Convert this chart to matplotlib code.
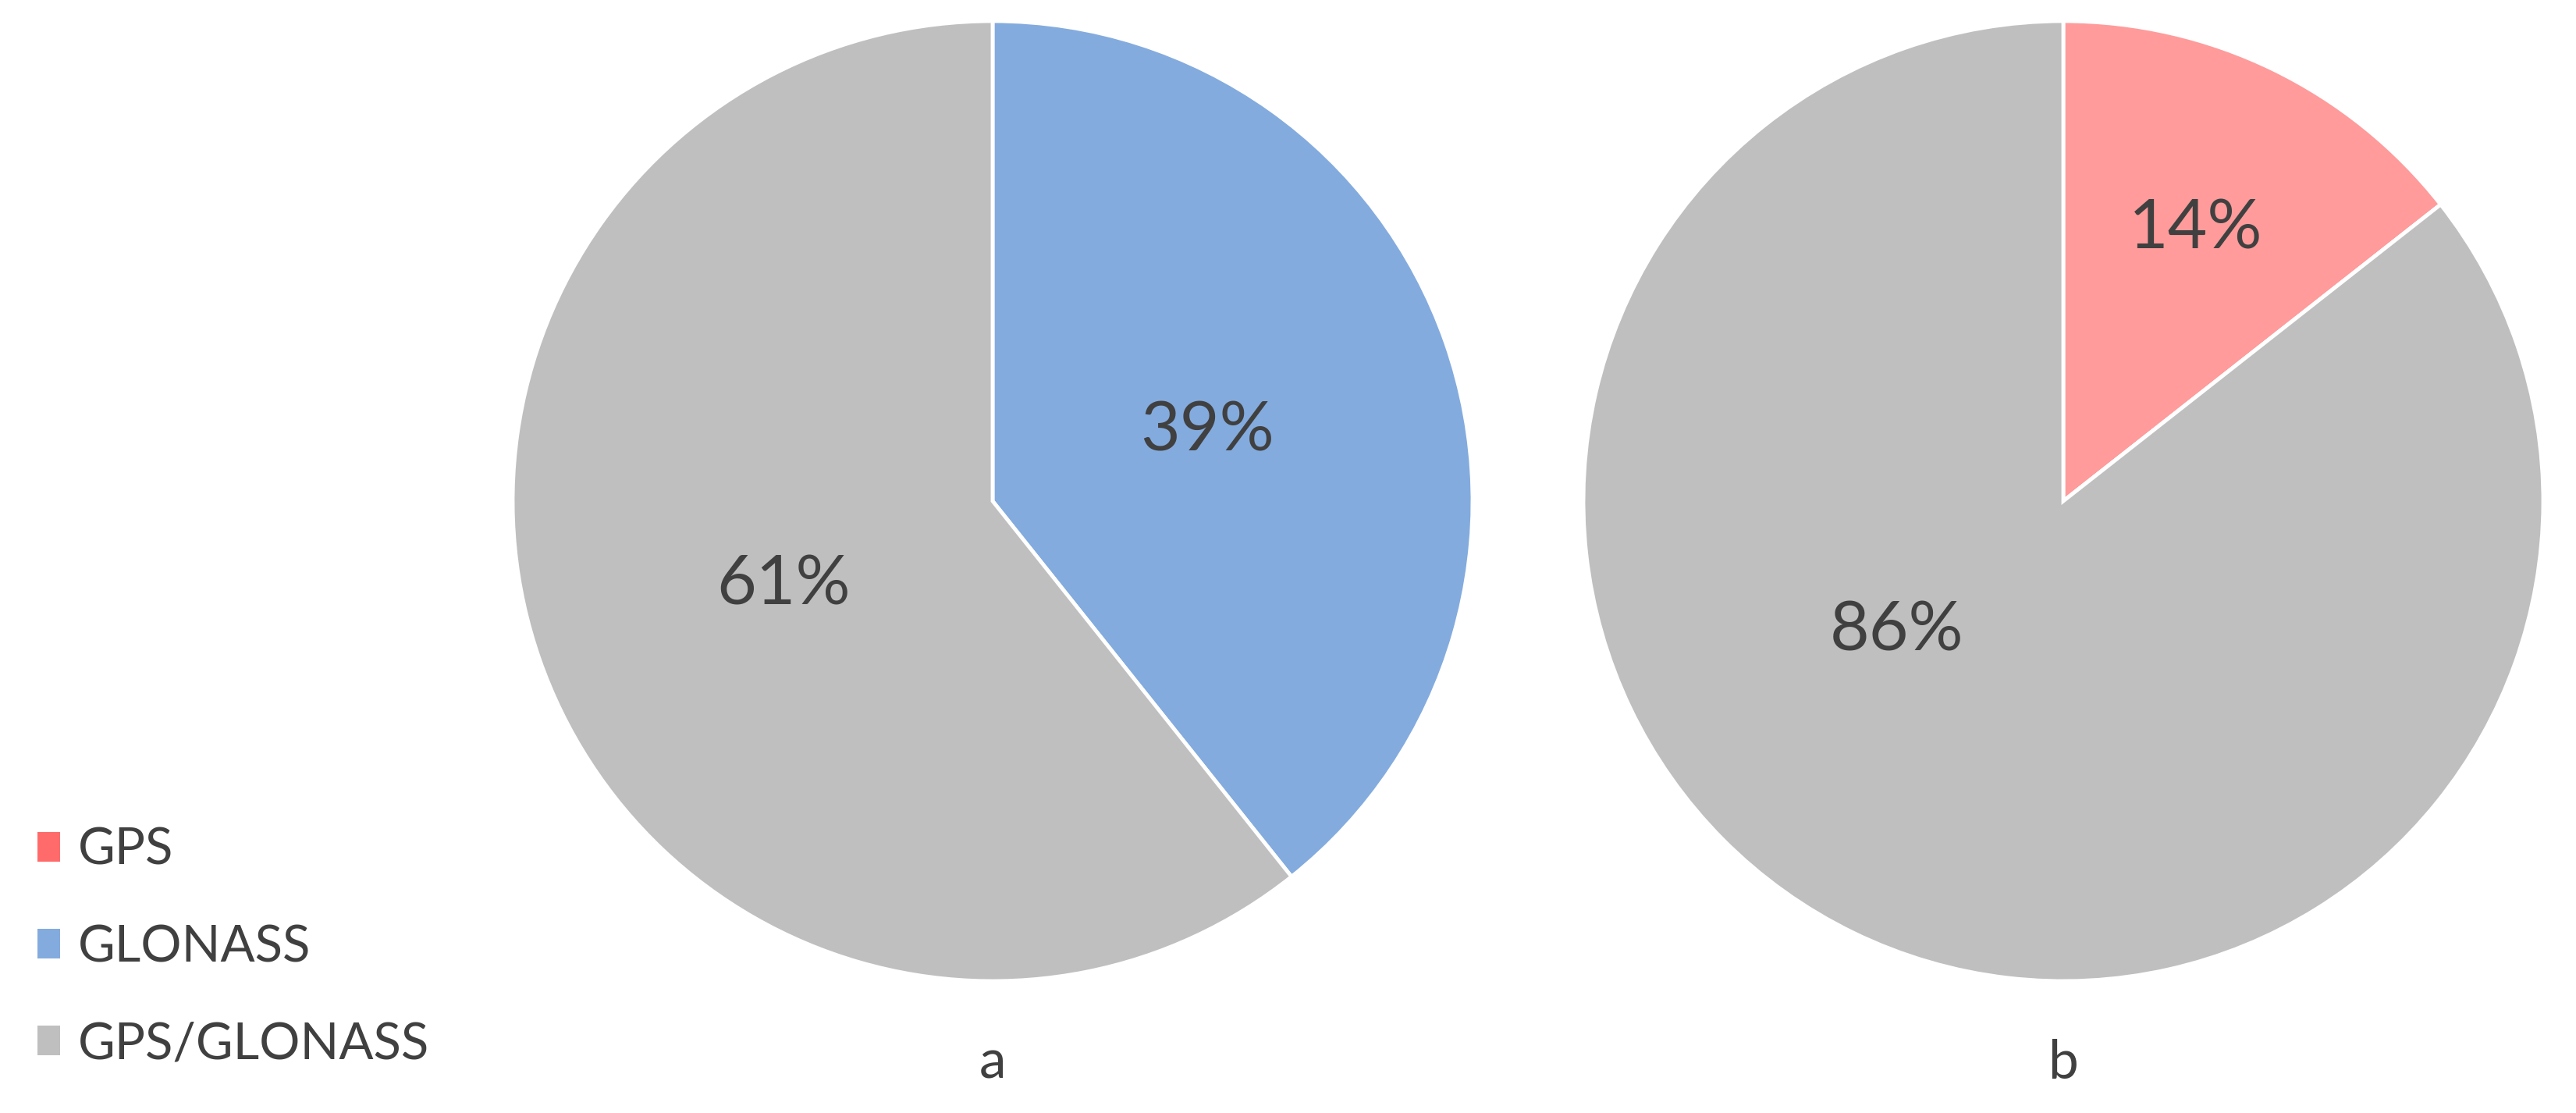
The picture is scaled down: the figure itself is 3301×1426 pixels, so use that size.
import numpy as np
import matplotlib
matplotlib.use("Agg")
import matplotlib.pyplot as plt
from matplotlib.patches import Patch

plt.rcParams['font.family'] = ['Lato', 'DejaVu Sans']

categories = ["GPS", "GLONASS", "GPS/GLONASS"]
# slice angles, labels show them rounded
share_a = [0, 39.3, 60.7]
share_b = [14.4, 0, 85.6]
panel_names = ["a", "b"]

legend_colors = ["#FF6B6B", "#83ABDE", "#BFBFBF"]
colors_a = ["#FF6B6B", "#83ABDE", "#BFBFBF"]
colors_b = ["#FF9B9B", "#83ABDE", "#BFBFBF"]
txt = "#404040"

# where excel put the labels (radius fraction, angle in deg) for each slice
label_pos_a = [None, (0.47, 18), (0.47, 202)]
label_pos_b = [(0.63, 64), None, (0.44, 218)]

W, H = 3301, 1426
fig = plt.figure(figsize=(W / 100, H / 100), dpi=100)

R = 615
centers = [(1272, 642), (2644, 642)]   # pixel coords, from top-left

def draw(cx, cy, vals, cols, lpos, name):
     ax = fig.add_axes([(cx - R) / W, (H - cy - R) / H, 2 * R / W, 2 * R / H])
     ax.pie(vals, colors=cols, startangle=90, counterclock=False,
            wedgeprops=dict(edgecolor="white", linewidth=3.5))
     ax.set_xlim(-1, 1)
     ax.set_ylim(-1, 1)
     ax.set_aspect("equal")
     for v, p in zip(vals, lpos):
          if v == 0 or p is None:
               continue
          r, a = p
          ax.text(r * np.cos(np.radians(a)), r * np.sin(np.radians(a)), "%.0f%%" % v,
                  ha="center", va="center", fontsize=63, color=txt)
     fig.text(cx / W, 1 - 1362 / H, name, ha="center", va="center", fontsize=50, color=txt)

draw(*centers[0], share_a, colors_a, label_pos_a, panel_names[0])
draw(*centers[1], share_b, colors_b, label_pos_b, panel_names[1])

handles = [Patch(facecolor=c, edgecolor="none") for c in legend_colors]
fig.legend(handles, categories, loc="upper left", bbox_to_anchor=(48 / W, 1 - 1060 / H),
           frameon=False, fontsize=47, labelcolor=txt, handlelength=0.45, handleheight=0.52,
           handletextpad=0.35, labelspacing=1.0, borderpad=0, borderaxespad=0)

fig.savefig("out.png", dpi=100, facecolor="white")
